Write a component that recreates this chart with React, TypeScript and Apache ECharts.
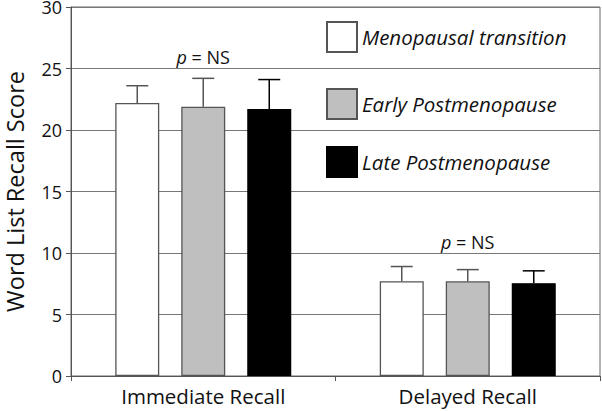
import React, { useEffect, useRef } from "react";
import * as echarts from "echarts";

const categories = ["Immediate Recall", "Delayed Recall"];
const groupNames = ["Menopausal transition", "Early Postmenopause", "Late Postmenopause"];
const meanValues = [
  [22.2, 7.7],
  [21.9, 7.7],
  [21.7, 7.55],
];
const upperValues = [
  [23.6, 8.9],
  [24.2, 8.65],
  [24.1, 8.55],
];
const pLabelValues = [25.9, 10.9];
const yTicks = { min: 0, max: 30, interval: 5 };

const fills = ["#ffffff", "#bfbfbf", "#000000"];
const borders = ["#555555", "#555555", "#000000"];
const whiskers = ["#555555", "#555555", "#000000"];
const FONT = "'Open Sans', 'Noto Sans', sans-serif";

export default function App() {
  const ref = useRef<HTMLDivElement>(null);
  useEffect(() => {
    if (!ref.current) return;
    const chart = echarts.init(ref.current, null, { renderer: "svg" });
    const barWidth = 44;
    const offsets = [-66, 0, 66];
    const series: any[] = [];
    groupNames.forEach((name, i) => {
      series.push({
        type: "bar",
        name,
        data: meanValues[i],
        barWidth,
        barGap: "50%",
        itemStyle: { color: fills[i], borderColor: borders[i], borderWidth: 1.3 },
        z: 3,
        markPoint:
          i === 1
            ? {
                symbol: "circle",
                symbolSize: 0,
                silent: true,
                label: {
                  show: true,
                  position: "inside",
                  formatter: "{i|p} = NS",
                  color: "#111",
                  fontFamily: FONT,
                  fontSize: 18,
                  rich: { i: { fontStyle: "italic", fontFamily: FONT, fontSize: 18, color: "#111" } },
                },
                data: categories.map((c, k) => ({ coord: [k, pLabelValues[k]] })),
              }
            : undefined,
      });
    });
    groupNames.forEach((name, i) => {
      series.push({
        type: "custom",
        name: name + " error",
        data: categories.map((_, k) => [k, meanValues[i][k], upperValues[i][k]]),
        z: 4,
        renderItem: (params: any, api: any) => {
          const base = api.coord([api.value(0), api.value(1)]);
          const top = api.coord([api.value(0), api.value(2)]);
          const x = base[0] + offsets[i];
          const style = { stroke: whiskers[i], lineWidth: 1.5 };
          return {
            type: "group",
            children: [
              { type: "line", shape: { x1: x, y1: base[1], x2: x, y2: top[1] }, style },
              { type: "line", shape: { x1: x - 11, y1: top[1], x2: x + 11, y2: top[1] }, style },
            ],
          };
        },
      });
    });
    const legendTops = [21, 88, 146];
    chart.setOption({
      animation: false,
      grid: {
        left: 71,
        right: 2,
        top: 7,
        bottom: 35,
        outerBoundsMode: "none",
        containLabel: false,
        show: true,
        borderColor: "#666",
        borderWidth: 1,
        backgroundColor: "transparent",
      },
      legend: groupNames.map((n, i) => ({
        data: [n],
        left: 326,
        top: legendTops[i],
        padding: 0,
        itemWidth: 30,
        itemHeight: 30,
        itemGap: 6,
        icon: "rect",
        selectedMode: false,
        textStyle: { fontStyle: "italic", fontSize: 20.5, fontFamily: FONT, color: "#111" },
      })),
      xAxis: {
        type: "category",
        data: categories,
        axisLine: { lineStyle: { color: "#555", width: 1 } },
        axisTick: { show: true, length: 5, lineStyle: { color: "#555" } },
        axisLabel: { fontSize: 20.5, fontFamily: FONT, color: "#111", margin: 9 },
      },
      yAxis: {
        type: "value",
        min: yTicks.min,
        max: yTicks.max,
        interval: yTicks.interval,
        name: "Word List Recall Score",
        nameLocation: "middle",
        nameGap: 44,
        nameTextStyle: { fontSize: 23.5, fontFamily: FONT, color: "#111", lineHeight: 24 },
        axisLine: { show: true, lineStyle: { color: "#555", width: 1 } },
        axisTick: { show: true, length: 5, lineStyle: { color: "#555" } },
        axisLabel: { fontSize: 18, fontFamily: FONT, color: "#111", margin: 9, lineHeight: 14 },
        splitLine: { show: true, lineStyle: { color: "#777", width: 1.2 } },
      },
      series,
    });
    return () => chart.dispose();
  }, []);
  return (
    <div
      ref={ref}
      style={{ position: "absolute", left: 0, top: 0, width: 602, height: 411, background: "#fff" }}
    />
  );
}
